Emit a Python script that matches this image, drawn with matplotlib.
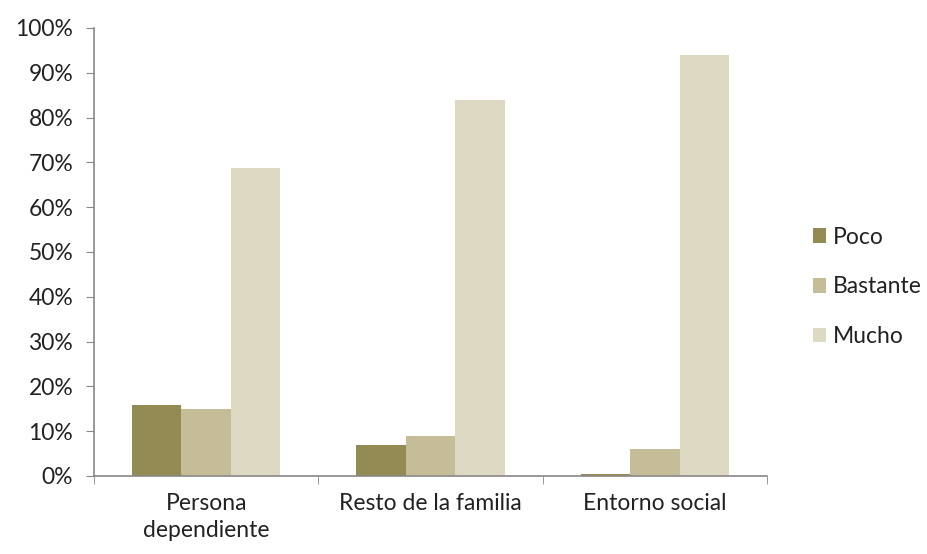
import numpy as np
import matplotlib
matplotlib.use("Agg")
from matplotlib import pyplot as plt
from matplotlib.ticker import PercentFormatter

plt.rcParams['font.family'] = ['Lato', 'DejaVu Sans']

categories = ['Persona\ndependiente', 'Resto de la familia', 'Entorno social']
series = ['Poco', 'Bastante', 'Mucho']
poco = [15.8, 7.0, 0.4]
bastante = [15.0, 9.0, 6.0]
mucho = [68.8, 84.0, 94.0]
colors = ['#948a54', '#c4bd97', '#ddd9c3']

fig = plt.figure(figsize=(9.28, 5.54), dpi=100)
ax = fig.add_axes([94/928, 1 - 476/554, (767 - 94)/928, (476 - 28)/554])

x = np.arange(len(categories))
w = 0.22
for i, (vals, name) in enumerate(zip([poco, bastante, mucho], series)):
    ax.bar(x + (i - 1) * w, vals, width=w, color=colors[i], label=name)

ax.set_xlim(-0.5, 2.5)
ax.set_ylim(0, 100)
ax.set_yticks(np.arange(0, 101, 10))
ax.yaxis.set_major_formatter(PercentFormatter(decimals=0))
ax.set_xticks(x)
ax.set_xticklabels(categories, fontsize=16.5, color='#222222', linespacing=1.35)
ax.set_xticks(np.arange(-0.5, 3, 1), minor=True)
ax.tick_params(axis='x', which='major', length=0, pad=12)
ax.tick_params(axis='x', which='minor', length=6, color='#888888')
ax.tick_params(axis='y', length=6, color='#888888', labelsize=16.5, labelcolor='#222222', pad=9)

for s in ['top', 'right']:
    ax.spines[s].set_visible(False)
for s in ['left', 'bottom']:
    ax.spines[s].set_color('#888888')
    ax.spines[s].set_linewidth(1.2)

fig.legend(loc='center left', bbox_to_anchor=(792/928, 1 - 287/554), frameon=False,
           fontsize=16.5, labelspacing=1.25, handlelength=0.6, handleheight=0.6,
           handletextpad=0.3, labelcolor='#222222')

fig.savefig('out.png', dpi=100)
